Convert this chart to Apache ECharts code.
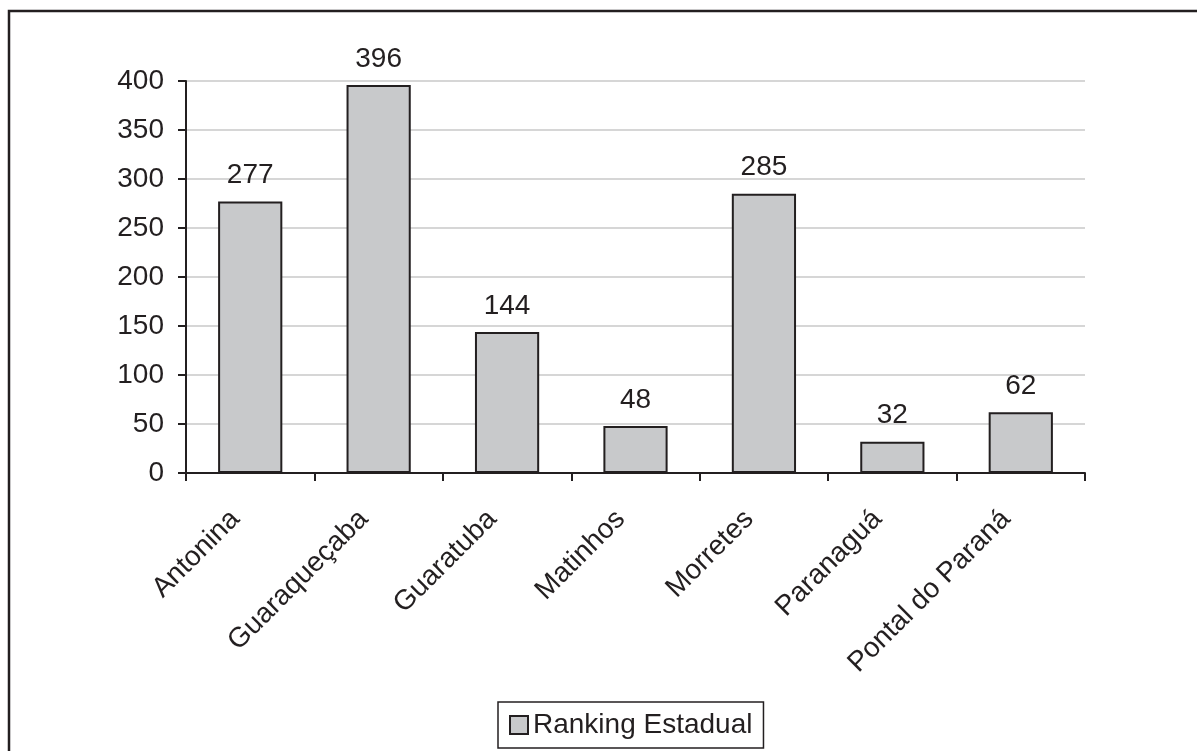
<!DOCTYPE html>
<html>
<head>
<meta charset="utf-8">
<script src="https://cdn.jsdelivr.net/npm/echarts@6/dist/echarts.min.js"></script>
<style>
  html, body { margin: 0; padding: 0; background: #fff; }
  #chart { width: 1197px; height: 751px; }
</style>
</head>
<body>
<div id="chart"></div>
<script>
const municipios = ["Antonina", "Guaraqueçaba", "Guaratuba", "Matinhos", "Morretes", "Paranaguá", "Pontal do Paraná"];
const ranking = [277, 396, 144, 48, 285, 32, 62];
const serieNome = "Ranking Estadual";

const ink = "#231f20";
const font = "'Liberation Sans', Arial, sans-serif";

let myChart = echarts.init(document.getElementById("chart"));
myChart.setOption({
  animation: false,
  backgroundColor: "#fff",
  textStyle: { fontFamily: font, color: ink },
  graphic: [
    {
      // moldura externa (cortada nas bordas direita e inferior)
      type: "rect",
      shape: { x: 9, y: 11, width: 1260, height: 800 },
      style: { fill: "none", stroke: ink, lineWidth: 2.5 },
      silent: true
    }
  ],
  grid: { left: 186, right: 112, top: 81, bottom: 278 },
  legend: {
    data: [serieNome],
    left: 498,
    top: 702,
    icon: "rect",
    itemWidth: 18,
    itemHeight: 18,
    itemGap: 6,
    padding: [9, 11, 9, 11],
    borderColor: ink,
    borderWidth: 1.5,
    textStyle: { fontSize: 28, color: ink, fontFamily: font }
  },
  xAxis: {
    type: "category",
    data: municipios,
    axisLine: { lineStyle: { color: ink, width: 2 } },
    axisTick: { show: true, length: 8, lineStyle: { color: ink, width: 2 } },
    axisLabel: {
      rotate: 45, fontSize: 28, color: ink, margin: 27, interval: 0,
      padding: [0, 21, 0, 0], fontFamily: font
    }
  },
  yAxis: {
    type: "value",
    min: 0,
    max: 400,
    interval: 50,
    axisLine: { show: true, lineStyle: { color: ink, width: 2 } },
    axisTick: { show: true, length: 8, lineStyle: { color: ink, width: 2 } },
    axisLabel: { fontSize: 28, color: ink, margin: 22, fontFamily: font },
    splitLine: { lineStyle: { color: "#c8c8c8", width: 1.5 } }
  },
  series: [
    {
      name: serieNome,
      type: "bar",
      data: ranking,
      barWidth: "50%",
      itemStyle: { color: "#c8c9cb", borderColor: ink, borderWidth: 2 },
      label: { show: true, position: "top", distance: 12, fontSize: 28, color: ink, fontFamily: font }
    }
  ]
});
</script>
</body>
</html>
